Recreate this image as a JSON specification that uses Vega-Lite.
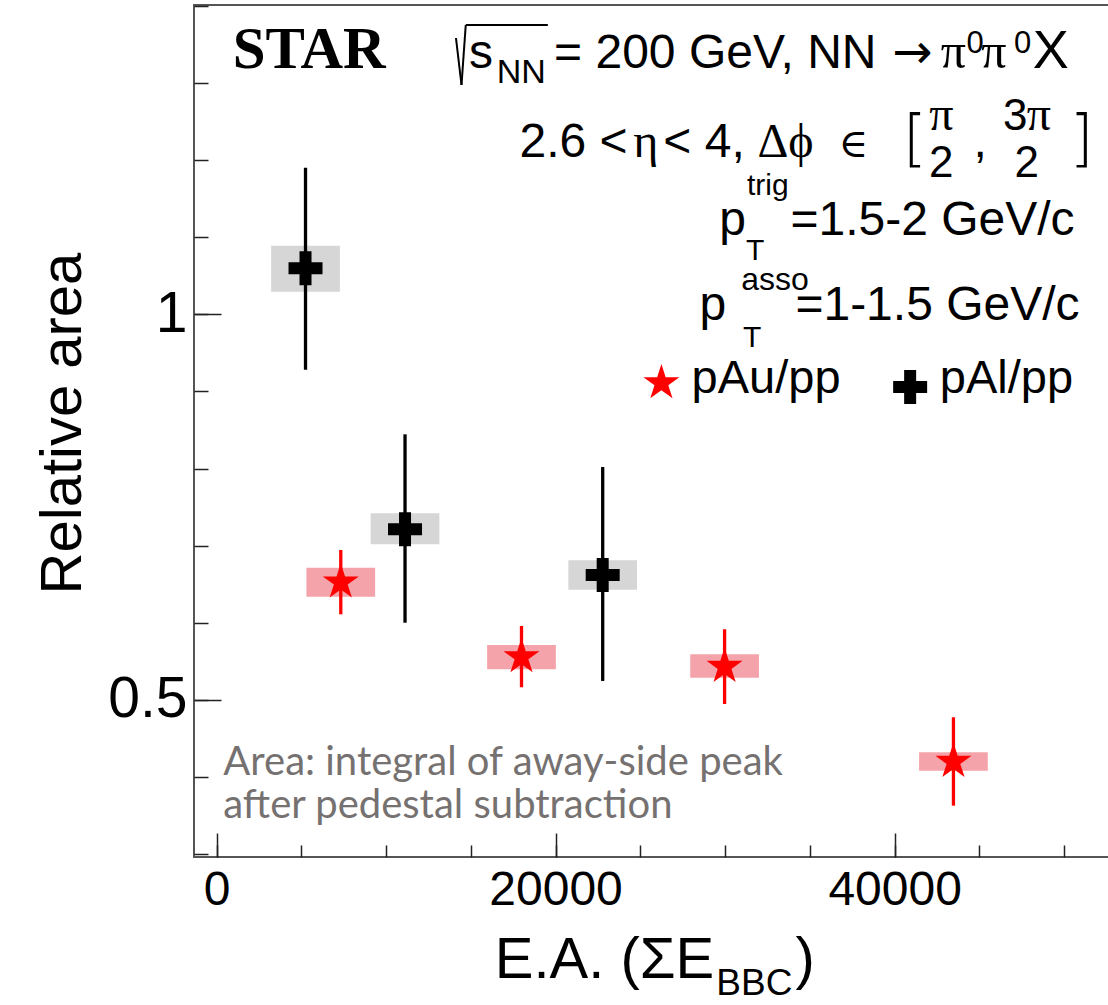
{
  "$schema": "https://vega.github.io/schema/vega-lite/v6.json",
  "width": 915,
  "height": 852,
  "autosize": "none",
  "padding": {"left": 194, "top": 5, "right": 0, "bottom": 148},
  "background": "white",
  "config": {"view": {"stroke": "#555555", "strokeWidth": 2}, "font": "Liberation Sans"},
  "datasets": {
    "points": [
      {"system": "pAl/pp", "ea": 5250, "r": 1.0596, "stat_lo": 0.928, "stat_hi": 1.190, "sys_lo": 1.0293, "sys_hi": 1.0889},
      {"system": "pAl/pp", "ea": 11120, "r": 0.7213, "stat_lo": 0.6002, "stat_hi": 0.8444, "sys_lo": 0.7018, "sys_hi": 0.742},
      {"system": "pAl/pp", "ea": 22780, "r": 0.662, "stat_lo": 0.5247, "stat_hi": 0.802, "sys_lo": 0.643, "sys_hi": 0.681},
      {"system": "pAu/pp", "ea": 7330, "r": 0.6526, "stat_lo": 0.6111, "stat_hi": 0.6945, "sys_lo": 0.634, "sys_hi": 0.6715},
      {"system": "pAu/pp", "ea": 17990, "r": 0.5557, "stat_lo": 0.5165, "stat_hi": 0.596, "sys_lo": 0.5398, "sys_hi": 0.5713},
      {"system": "pAu/pp", "ea": 29970, "r": 0.5432, "stat_lo": 0.4948, "stat_hi": 0.5917, "sys_lo": 0.5289, "sys_hi": 0.5592},
      {"system": "pAu/pp", "ea": 43470, "r": 0.42, "stat_lo": 0.363, "stat_hi": 0.4776, "sys_lo": 0.4083, "sys_hi": 0.4322}
    ]
  },
  "layer": [
    {
      "data": {"name": "points"},
      "mark": {"type": "bar", "width": 68.7},
      "encoding": {
        "x": {"field": "ea", "type": "quantitative", "scale": {"domain": [-1033, 52351], "nice": false, "zero": false},
          "axis": {"orient": "bottom", "values": [0, 20000, 40000], "format": "d", "ticks": false, "domain": false, "grid": false, "labelFontSize": 48, "labelFont": "Liberation Sans", "labelColor": "black", "labelPadding": 9.5, "labelFlush": false, "labelOverlap": false, "title": null}},
        "y": {"field": "sys_lo", "type": "quantitative", "scale": {"domain": [0.29647, 1.40096], "nice": false, "zero": false},
          "axis": {"orient": "left", "values": [0.5, 1], "format": "~g", "ticks": false, "domain": false, "grid": false, "labelFontSize": 57, "labelFont": "Liberation Sans", "labelColor": "black", "labelPadding": 7, "labelFlush": false, "labelOverlap": false, "title": "Relative area", "titleFontSize": 58, "titleFont": "Liberation Sans", "titleFontWeight": "normal", "titleColor": "black", "titlePadding": 15, "titleY": 418}},
        "y2": {"field": "sys_hi"},
        "fill": {"field": "system", "type": "nominal", "scale": {"domain": ["pAu/pp", "pAl/pp"], "range": ["#f4a3aa", "#d6d6d6"]}, "legend": null}
      }
    },
    {
      "data": {"name": "points"},
      "mark": {"type": "rule", "strokeWidth": 3.3},
      "encoding": {
        "x": {"field": "ea", "type": "quantitative", "scale": {"domain": [-1033, 52351], "nice": false, "zero": false},
          "axis": {"orient": "bottom", "values": [0, 20000, 40000], "labels": false, "domain": false, "grid": false, "ticks": true, "tickSize": -24, "tickColor": "#222222", "tickWidth": 1.5, "title": null}},
        "y": {"field": "stat_lo", "type": "quantitative", "scale": {"domain": [0.29647, 1.40096], "nice": false, "zero": false},
          "axis": {"orient": "left", "values": [0.5, 1], "labels": false, "domain": false, "grid": false, "ticks": true, "tickSize": -27, "tickColor": "#222222", "tickWidth": 1.5, "title": null}},
        "y2": {"field": "stat_hi"},
        "stroke": {"field": "system", "type": "nominal", "scale": {"domain": ["pAu/pp", "pAl/pp"], "range": ["#ff0000", "#000000"]}, "legend": null}
      }
    },
    {
      "data": {"name": "points"},
      "mark": {"type": "point", "filled": true, "opacity": 1, "size": 1433, "strokeWidth": 0},
      "encoding": {
        "x": {"field": "ea", "type": "quantitative", "scale": {"domain": [-1033, 52351], "nice": false, "zero": false},
          "axis": {"orient": "bottom", "values": [0, 5000, 10000, 15000, 20000, 25000, 30000, 35000, 40000, 45000, 50000], "labels": false, "domain": false, "grid": false, "ticks": true, "tickSize": -12, "tickColor": "#222222", "tickWidth": 1.5, "title": null}},
        "y": {"field": "r", "type": "quantitative", "scale": {"domain": [0.29647, 1.40096], "nice": false, "zero": false},
          "axis": {"orient": "left", "values": [0.3, 0.4, 0.5, 0.6, 0.7, 0.8, 0.9, 1, 1.1, 1.2, 1.3, 1.4], "labels": false, "domain": false, "grid": false, "ticks": true, "tickSize": -14, "tickColor": "#222222", "tickWidth": 1.5, "title": null}},
        "color": {"field": "system", "type": "nominal", "scale": {"domain": ["pAu/pp", "pAl/pp"], "range": ["#ff0000", "#000000"]}, "legend": null},
        "shape": {"field": "system", "type": "nominal", "scale": {"domain": ["pAu/pp", "pAl/pp"], "range": ["M0,-1L0.2245,-0.309L0.9511,-0.309L0.3633,0.118L0.5878,0.809L0,0.382L-0.5878,0.809L-0.3633,0.118L-0.9511,-0.309L-0.2245,-0.309Z", "M-0.898,-0.317H-0.317V-0.898H0.317V-0.317H0.898V0.317H0.317V0.898H-0.317V0.317H-0.898Z"]}, "legend": null}
      }
    },
    {"data": {"values": [{}]}, "mark": {"type": "point", "filled": true, "opacity": 1, "size": 1433, "strokeWidth": 0, "color": "#ff0000", "shape": "M0,-1L0.2245,-0.309L0.9511,-0.309L0.3633,0.118L0.5878,0.809L0,0.382L-0.5878,0.809L-0.3633,0.118L-0.9511,-0.309L-0.2245,-0.309Z"},
      "encoding": {"x": {"datum": 26243, "type": "quantitative", "scale": {"domain": [-1033, 52351], "nice": false, "zero": false}, "axis": null}, "y": {"datum": 0.91094, "type": "quantitative", "scale": {"domain": [0.29647, 1.40096], "nice": false, "zero": false}, "axis": null}}},
    {"data": {"values": [{}]}, "mark": {"type": "point", "filled": true, "opacity": 1, "size": 1433, "strokeWidth": 0, "color": "#000000", "shape": "M-0.898,-0.317H-0.317V-0.898H0.317V-0.317H0.898V0.317H0.317V0.898H-0.317V0.317H-0.898Z"},
      "encoding": {"x": {"datum": 40916, "type": "quantitative", "scale": {"domain": [-1033, 52351], "nice": false, "zero": false}, "axis": null}, "y": {"datum": 0.90576, "type": "quantitative", "scale": {"domain": [0.29647, 1.40096], "nice": false, "zero": false}, "axis": null}}},
    {"data": {"values": [{}]}, "mark": {"type": "text", "text": "pAu/pp", "align": "left", "baseline": "alphabetic", "fontSize": 47, "color": "black"},
      "encoding": {"x": {"datum": 28022, "type": "quantitative", "scale": {"domain": [-1033, 52351], "nice": false, "zero": false}, "axis": null}, "y": {"datum": 0.89798, "type": "quantitative", "scale": {"domain": [0.29647, 1.40096], "nice": false, "zero": false}, "axis": null}}},
    {"data": {"values": [{}]}, "mark": {"type": "text", "text": "pAl/pp", "align": "left", "baseline": "alphabetic", "fontSize": 47, "color": "black"},
      "encoding": {"x": {"datum": 42666, "type": "quantitative", "scale": {"domain": [-1033, 52351], "nice": false, "zero": false}, "axis": null}, "y": {"datum": 0.89798, "type": "quantitative", "scale": {"domain": [0.29647, 1.40096], "nice": false, "zero": false}, "axis": null}}},
    {"data": {"values": [{}]}, "mark": {"type": "text", "text": "STAR", "align": "left", "baseline": "alphabetic", "font": "Liberation Serif", "fontWeight": "bold", "fontSize": 59, "color": "black"},
      "encoding": {"x": {"datum": 951, "type": "quantitative", "scale": {"domain": [-1033, 52351], "nice": false, "zero": false}, "axis": null}, "y": {"datum": 1.31932, "type": "quantitative", "scale": {"domain": [0.29647, 1.40096], "nice": false, "zero": false}, "axis": null}}},
    {"data": {"values": [{}]}, "mark": {"type": "rule", "strokeWidth": 2, "color": "black"},
      "encoding": {"x": {"datum": 14125, "type": "quantitative", "scale": {"domain": [-1033, 52351], "nice": false, "zero": false}, "axis": null}, "x2": {"datum": 14452}, "y": {"datum": 1.35818, "type": "quantitative", "scale": {"domain": [0.29647, 1.40096], "nice": false, "zero": false}, "axis": null}, "y2": {"datum": 1.29725}}},
    {"data": {"values": [{}]}, "mark": {"type": "rule", "strokeWidth": 2, "color": "black"},
      "encoding": {"x": {"datum": 14452, "type": "quantitative", "scale": {"domain": [-1033, 52351], "nice": false, "zero": false}, "axis": null}, "x2": {"datum": 14702}, "y": {"datum": 1.29725, "type": "quantitative", "scale": {"domain": [0.29647, 1.40096], "nice": false, "zero": false}, "axis": null}, "y2": {"datum": 1.37503}}},
    {"data": {"values": [{}]}, "mark": {"type": "rule", "strokeWidth": 2, "color": "black"},
      "encoding": {"x": {"datum": 14702, "type": "quantitative", "scale": {"domain": [-1033, 52351], "nice": false, "zero": false}, "axis": null}, "x2": {"datum": 19545}, "y": {"datum": 1.37503, "type": "quantitative", "scale": {"domain": [0.29647, 1.40096], "nice": false, "zero": false}, "axis": null}, "y2": {"datum": 1.37503}}},
    {"data": {"values": [{}]}, "mark": {"type": "text", "text": "s", "align": "left", "baseline": "alphabetic", "fontSize": 48, "color": "black"},
      "encoding": {"x": {"datum": 14895, "type": "quantitative", "scale": {"domain": [-1033, 52351], "nice": false, "zero": false}, "axis": null}, "y": {"datum": 1.31932, "type": "quantitative", "scale": {"domain": [0.29647, 1.40096], "nice": false, "zero": false}, "axis": null}}},
    {"data": {"values": [{}]}, "mark": {"type": "text", "text": "NN", "align": "left", "baseline": "alphabetic", "fontSize": 34, "color": "black"},
      "encoding": {"x": {"datum": 16529, "type": "quantitative", "scale": {"domain": [-1033, 52351], "nice": false, "zero": false}, "axis": null}, "y": {"datum": 1.29984, "type": "quantitative", "scale": {"domain": [0.29647, 1.40096], "nice": false, "zero": false}, "axis": null}}},
    {"data": {"values": [{}]}, "mark": {"type": "text", "text": "= 200 GeV, NN", "align": "left", "baseline": "alphabetic", "fontSize": 48, "color": "black"},
      "encoding": {"x": {"datum": 19913, "type": "quantitative", "scale": {"domain": [-1033, 52351], "nice": false, "zero": false}, "axis": null}, "y": {"datum": 1.31932, "type": "quantitative", "scale": {"domain": [0.29647, 1.40096], "nice": false, "zero": false}, "axis": null}}},
    {"data": {"values": [{}]}, "mark": {"type": "text", "text": "→", "align": "left", "baseline": "alphabetic", "font": "DejaVu Sans", "fontSize": 48, "color": "black"},
      "encoding": {"x": {"datum": 39866, "type": "quantitative", "scale": {"domain": [-1033, 52351], "nice": false, "zero": false}, "axis": null}, "y": {"datum": 1.31932, "type": "quantitative", "scale": {"domain": [0.29647, 1.40096], "nice": false, "zero": false}, "axis": null}}},
    {"data": {"values": [{}]}, "mark": {"type": "text", "text": "π", "align": "left", "baseline": "alphabetic", "font": "Liberation Serif", "fontSize": 50, "color": "black"},
      "encoding": {"x": {"datum": 42724, "type": "quantitative", "scale": {"domain": [-1033, 52351], "nice": false, "zero": false}, "axis": null}, "y": {"datum": 1.31932, "type": "quantitative", "scale": {"domain": [0.29647, 1.40096], "nice": false, "zero": false}, "axis": null}}},
    {"data": {"values": [{}]}, "mark": {"type": "text", "text": "0", "align": "left", "baseline": "alphabetic", "fontSize": 31, "color": "black"},
      "encoding": {"x": {"datum": 44240, "type": "quantitative", "scale": {"domain": [-1033, 52351], "nice": false, "zero": false}, "axis": null}, "y": {"datum": 1.33874, "type": "quantitative", "scale": {"domain": [0.29647, 1.40096], "nice": false, "zero": false}, "axis": null}}},
    {"data": {"values": [{}]}, "mark": {"type": "text", "text": "π", "align": "left", "baseline": "alphabetic", "font": "Liberation Serif", "fontSize": 50, "color": "black"},
      "encoding": {"x": {"datum": 45107, "type": "quantitative", "scale": {"domain": [-1033, 52351], "nice": false, "zero": false}, "axis": null}, "y": {"datum": 1.31932, "type": "quantitative", "scale": {"domain": [0.29647, 1.40096], "nice": false, "zero": false}, "axis": null}}},
    {"data": {"values": [{}]}, "mark": {"type": "text", "text": "0", "align": "left", "baseline": "alphabetic", "fontSize": 31, "color": "black"},
      "encoding": {"x": {"datum": 47043, "type": "quantitative", "scale": {"domain": [-1033, 52351], "nice": false, "zero": false}, "axis": null}, "y": {"datum": 1.33874, "type": "quantitative", "scale": {"domain": [0.29647, 1.40096], "nice": false, "zero": false}, "axis": null}}},
    {"data": {"values": [{}]}, "mark": {"type": "text", "text": "X", "align": "left", "baseline": "alphabetic", "fontSize": 54, "color": "black"},
      "encoding": {"x": {"datum": 48150, "type": "quantitative", "scale": {"domain": [-1033, 52351], "nice": false, "zero": false}, "axis": null}, "y": {"datum": 1.31932, "type": "quantitative", "scale": {"domain": [0.29647, 1.40096], "nice": false, "zero": false}, "axis": null}}},
    {"data": {"values": [{}]}, "mark": {"type": "text", "text": "2.6 <", "align": "left", "baseline": "alphabetic", "fontSize": 48, "color": "black"},
      "encoding": {"x": {"datum": 17871, "type": "quantitative", "scale": {"domain": [-1033, 52351], "nice": false, "zero": false}, "axis": null}, "y": {"datum": 1.20392, "type": "quantitative", "scale": {"domain": [0.29647, 1.40096], "nice": false, "zero": false}, "axis": null}}},
    {"data": {"values": [{}]}, "mark": {"type": "text", "text": "η", "align": "left", "baseline": "alphabetic", "font": "Liberation Serif", "fontSize": 48, "color": "black"},
      "encoding": {"x": {"datum": 24580, "type": "quantitative", "scale": {"domain": [-1033, 52351], "nice": false, "zero": false}, "axis": null}, "y": {"datum": 1.20392, "type": "quantitative", "scale": {"domain": [0.29647, 1.40096], "nice": false, "zero": false}, "axis": null}}},
    {"data": {"values": [{}]}, "mark": {"type": "text", "text": "< 4,", "align": "left", "baseline": "alphabetic", "fontSize": 48, "color": "black"},
      "encoding": {"x": {"datum": 26359, "type": "quantitative", "scale": {"domain": [-1033, 52351], "nice": false, "zero": false}, "axis": null}, "y": {"datum": 1.20392, "type": "quantitative", "scale": {"domain": [0.29647, 1.40096], "nice": false, "zero": false}, "axis": null}}},
    {"data": {"values": [{}]}, "mark": {"type": "text", "text": "Δϕ", "align": "left", "baseline": "alphabetic", "font": "Liberation Serif", "fontSize": 48, "color": "black"},
      "encoding": {"x": {"datum": 31908, "type": "quantitative", "scale": {"domain": [-1033, 52351], "nice": false, "zero": false}, "axis": null}, "y": {"datum": 1.20392, "type": "quantitative", "scale": {"domain": [0.29647, 1.40096], "nice": false, "zero": false}, "axis": null}}},
    {"data": {"values": [{}]}, "mark": {"type": "text", "text": "∈", "align": "left", "baseline": "alphabetic", "font": "DejaVu Serif", "fontSize": 40, "color": "black"},
      "encoding": {"x": {"datum": 36698, "type": "quantitative", "scale": {"domain": [-1033, 52351], "nice": false, "zero": false}, "axis": null}, "y": {"datum": 1.20392, "type": "quantitative", "scale": {"domain": [0.29647, 1.40096], "nice": false, "zero": false}, "axis": null}}},
    {"data": {"values": [{}]}, "mark": {"type": "text", "text": "[", "align": "left", "baseline": "alphabetic", "font": "DejaVu Sans", "fontWeight": 200, "fontSize": 62, "color": "black"},
      "encoding": {"x": {"datum": 40484, "type": "quantitative", "scale": {"domain": [-1033, 52351], "nice": false, "zero": false}, "axis": null}, "y": {"datum": 1.20132, "type": "quantitative", "scale": {"domain": [0.29647, 1.40096], "nice": false, "zero": false}, "axis": null}}},
    {"data": {"values": [{}]}, "mark": {"type": "text", "text": "π", "align": "center", "baseline": "alphabetic", "font": "Liberation Serif", "fontSize": 48, "color": "black"},
      "encoding": {"x": {"datum": 42754, "type": "quantitative", "scale": {"domain": [-1033, 52351], "nice": false, "zero": false}, "axis": null}, "y": {"datum": 1.23892, "type": "quantitative", "scale": {"domain": [0.29647, 1.40096], "nice": false, "zero": false}, "axis": null}}},
    {"data": {"values": [{}]}, "mark": {"type": "text", "text": "2", "align": "center", "baseline": "alphabetic", "fontSize": 44, "color": "black"},
      "encoding": {"x": {"datum": 42754, "type": "quantitative", "scale": {"domain": [-1033, 52351], "nice": false, "zero": false}, "axis": null}, "y": {"datum": 1.17799, "type": "quantitative", "scale": {"domain": [0.29647, 1.40096], "nice": false, "zero": false}, "axis": null}}},
    {"data": {"values": [{}]}, "mark": {"type": "text", "text": ",", "align": "left", "baseline": "alphabetic", "fontSize": 48, "color": "black"},
      "encoding": {"x": {"datum": 44650, "type": "quantitative", "scale": {"domain": [-1033, 52351], "nice": false, "zero": false}, "axis": null}, "y": {"datum": 1.20392, "type": "quantitative", "scale": {"domain": [0.29647, 1.40096], "nice": false, "zero": false}, "axis": null}}},
    {"data": {"values": [{}]}, "mark": {"type": "text", "text": "3", "align": "left", "baseline": "alphabetic", "fontSize": 44, "color": "black"},
      "encoding": {"x": {"datum": 46400, "type": "quantitative", "scale": {"domain": [-1033, 52351], "nice": false, "zero": false}, "axis": null}, "y": {"datum": 1.23892, "type": "quantitative", "scale": {"domain": [0.29647, 1.40096], "nice": false, "zero": false}, "axis": null}}},
    {"data": {"values": [{}]}, "mark": {"type": "text", "text": "π", "align": "left", "baseline": "alphabetic", "font": "Liberation Serif", "fontSize": 48, "color": "black"},
      "encoding": {"x": {"datum": 47800, "type": "quantitative", "scale": {"domain": [-1033, 52351], "nice": false, "zero": false}, "axis": null}, "y": {"datum": 1.23892, "type": "quantitative", "scale": {"domain": [0.29647, 1.40096], "nice": false, "zero": false}, "axis": null}}},
    {"data": {"values": [{}]}, "mark": {"type": "text", "text": "2", "align": "center", "baseline": "alphabetic", "fontSize": 44, "color": "black"},
      "encoding": {"x": {"datum": 47800, "type": "quantitative", "scale": {"domain": [-1033, 52351], "nice": false, "zero": false}, "axis": null}, "y": {"datum": 1.17799, "type": "quantitative", "scale": {"domain": [0.29647, 1.40096], "nice": false, "zero": false}, "axis": null}}},
    {"data": {"values": [{}]}, "mark": {"type": "text", "text": "]", "align": "left", "baseline": "alphabetic", "font": "DejaVu Sans", "fontWeight": 200, "fontSize": 62, "color": "black"},
      "encoding": {"x": {"datum": 50309, "type": "quantitative", "scale": {"domain": [-1033, 52351], "nice": false, "zero": false}, "axis": null}, "y": {"datum": 1.20132, "type": "quantitative", "scale": {"domain": [0.29647, 1.40096], "nice": false, "zero": false}, "axis": null}}},
    {"data": {"values": [{}]}, "mark": {"type": "text", "text": "p", "align": "left", "baseline": "alphabetic", "fontSize": 48, "color": "black"},
      "encoding": {"x": {"datum": 29656, "type": "quantitative", "scale": {"domain": [-1033, 52351], "nice": false, "zero": false}, "axis": null}, "y": {"datum": 1.1028, "type": "quantitative", "scale": {"domain": [0.29647, 1.40096], "nice": false, "zero": false}, "axis": null}}},
    {"data": {"values": [{}]}, "mark": {"type": "text", "text": "trig", "align": "left", "baseline": "alphabetic", "fontSize": 30, "color": "black"},
      "encoding": {"x": {"datum": 31289, "type": "quantitative", "scale": {"domain": [-1033, 52351], "nice": false, "zero": false}, "axis": null}, "y": {"datum": 1.15465, "type": "quantitative", "scale": {"domain": [0.29647, 1.40096], "nice": false, "zero": false}, "axis": null}}},
    {"data": {"values": [{}]}, "mark": {"type": "text", "text": "T", "align": "left", "baseline": "alphabetic", "fontSize": 30, "color": "black"},
      "encoding": {"x": {"datum": 31231, "type": "quantitative", "scale": {"domain": [-1033, 52351], "nice": false, "zero": false}, "axis": null}, "y": {"datum": 1.07039, "type": "quantitative", "scale": {"domain": [0.29647, 1.40096], "nice": false, "zero": false}, "axis": null}}},
    {"data": {"values": [{}]}, "mark": {"type": "text", "text": "=1.5-2 GeV/c", "align": "left", "baseline": "alphabetic", "fontSize": 48, "color": "black"},
      "encoding": {"x": {"datum": 33856, "type": "quantitative", "scale": {"domain": [-1033, 52351], "nice": false, "zero": false}, "axis": null}, "y": {"datum": 1.1028, "type": "quantitative", "scale": {"domain": [0.29647, 1.40096], "nice": false, "zero": false}, "axis": null}}},
    {"data": {"values": [{}]}, "mark": {"type": "text", "text": "p", "align": "left", "baseline": "alphabetic", "fontSize": 48, "color": "black"},
      "encoding": {"x": {"datum": 28489, "type": "quantitative", "scale": {"domain": [-1033, 52351], "nice": false, "zero": false}, "axis": null}, "y": {"datum": 0.99261, "type": "quantitative", "scale": {"domain": [0.29647, 1.40096], "nice": false, "zero": false}, "axis": null}}},
    {"data": {"values": [{}]}, "mark": {"type": "text", "text": "asso", "align": "left", "baseline": "alphabetic", "fontSize": 32, "color": "black"},
      "encoding": {"x": {"datum": 30947, "type": "quantitative", "scale": {"domain": [-1033, 52351], "nice": false, "zero": false}, "axis": null}, "y": {"datum": 1.0315, "type": "quantitative", "scale": {"domain": [0.29647, 1.40096], "nice": false, "zero": false}, "axis": null}}},
    {"data": {"values": [{}]}, "mark": {"type": "text", "text": "T", "align": "left", "baseline": "alphabetic", "fontSize": 30, "color": "black"},
      "encoding": {"x": {"datum": 31063, "type": "quantitative", "scale": {"domain": [-1033, 52351], "nice": false, "zero": false}, "axis": null}, "y": {"datum": 0.95761, "type": "quantitative", "scale": {"domain": [0.29647, 1.40096], "nice": false, "zero": false}, "axis": null}}},
    {"data": {"values": [{}]}, "mark": {"type": "text", "text": "=1-1.5 GeV/c", "align": "left", "baseline": "alphabetic", "fontSize": 48, "color": "black"},
      "encoding": {"x": {"datum": 34148, "type": "quantitative", "scale": {"domain": [-1033, 52351], "nice": false, "zero": false}, "axis": null}, "y": {"datum": 0.99261, "type": "quantitative", "scale": {"domain": [0.29647, 1.40096], "nice": false, "zero": false}, "axis": null}}},
    {"data": {"values": [{}]}, "mark": {"type": "text", "text": ["Area: integral of away-side peak", "after pedestal subtraction"], "lineHeight": 43, "align": "left", "baseline": "alphabetic", "font": "Lato", "fontSize": 40, "color": "#767171"},
      "encoding": {"x": {"datum": 400, "type": "quantitative", "scale": {"domain": [-1033, 52351], "nice": false, "zero": false}, "axis": null}, "y": {"datum": 0.40277, "type": "quantitative", "scale": {"domain": [0.29647, 1.40096], "nice": false, "zero": false}, "axis": null}}},
    {"data": {"values": [{}]}, "mark": {"type": "text", "text": "E.A. (ΣE", "align": "left", "baseline": "alphabetic", "fontSize": 58, "color": "black"},
      "encoding": {"x": {"datum": 16412, "type": "quantitative", "scale": {"domain": [-1033, 52351], "nice": false, "zero": false}, "axis": null}, "y": {"datum": 0.1396, "type": "quantitative", "scale": {"domain": [0.29647, 1.40096], "nice": false, "zero": false}, "axis": null}}},
    {"data": {"values": [{}]}, "mark": {"type": "text", "text": "BBC", "align": "left", "baseline": "alphabetic", "fontSize": 37, "color": "black"},
      "encoding": {"x": {"datum": 29484, "type": "quantitative", "scale": {"domain": [-1033, 52351], "nice": false, "zero": false}, "axis": null}, "y": {"datum": 0.11758, "type": "quantitative", "scale": {"domain": [0.29647, 1.40096], "nice": false, "zero": false}, "axis": null}}},
    {"data": {"values": [{}]}, "mark": {"type": "text", "text": ")", "align": "left", "baseline": "alphabetic", "fontSize": 58, "color": "black"},
      "encoding": {"x": {"datum": 34148, "type": "quantitative", "scale": {"domain": [-1033, 52351], "nice": false, "zero": false}, "axis": null}, "y": {"datum": 0.1396, "type": "quantitative", "scale": {"domain": [0.29647, 1.40096], "nice": false, "zero": false}, "axis": null}}}
  ],
  "resolve": {"axis": {"x": "independent", "y": "independent"}}
}
